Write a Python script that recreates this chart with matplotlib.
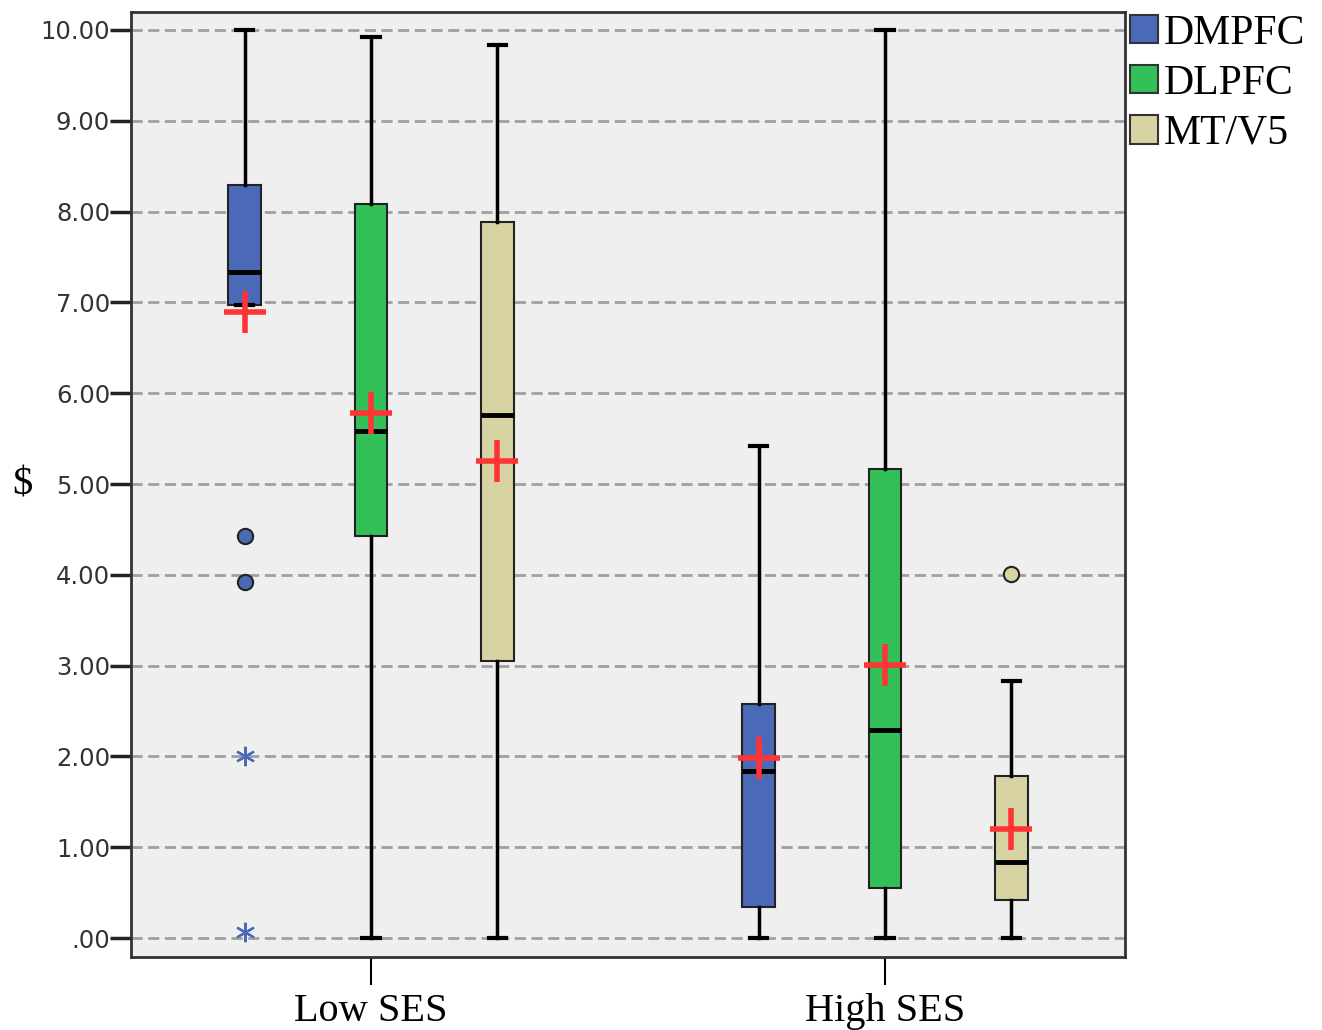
import matplotlib.pyplot as plt
from matplotlib.patches import Patch
import numpy as np

# data (SPSS style boxplot)
groups = ['Low SES', 'High SES']
regions = ['DMPFC', 'DLPFC', 'MT/V5']
colors = ['#4a6ab8', '#34c058', '#d7d3a3']

# per box, order: Low DMPFC, Low DLPFC, Low MT/V5, High DMPFC, High DLPFC, High MT/V5
whislo = [6.97, 0.0, 0.0, 0.0, 0.0, 0.0]
q1 = [6.97, 4.43, 3.05, 0.34, 0.55, 0.42]
med = [7.33, 5.58, 5.76, 1.84, 2.29, 0.84]
q3 = [8.29, 8.08, 7.89, 2.58, 5.17, 1.78]
whishi = [10.0, 9.92, 9.83, 5.42, 10.0, 2.83]
means = [6.89, 5.78, 5.25, 1.98, 3.01, 1.20]

# outliers (circles) and extremes (stars): (box index, value)
out_idx = [0, 0, 5]
out_val = [4.43, 3.92, 4.01]
ext_idx = [0, 0]
ext_val = [2.0, 0.07]

yticks = [0, 1, 2, 3, 4, 5, 6, 7, 8, 9, 10]
ytick_labels = ['.00', '1.00', '2.00', '3.00', '4.00', '5.00',
                '6.00', '7.00', '8.00', '9.00', '10.00']

fig = plt.figure(figsize=(13.22, 10.30), dpi=100)
ax = fig.add_axes([131 / 1322, 73 / 1030, 994 / 1322, 945 / 1030])
ax.set_facecolor('#efefef')

offset = 0.246
positions = []
for g in range(len(groups)):
    for r in range(len(regions)):
        positions.append(g + (r - 1) * offset)

stats = []
for i in range(len(positions)):
    stats.append({'whislo': whislo[i], 'q1': q1[i], 'med': med[i],
                  'q3': q3[i], 'whishi': whishi[i], 'fliers': []})

bp = ax.bxp(stats, positions=positions, widths=0.064, capwidths=0.034,
            patch_artist=True, showfliers=False, manage_ticks=False,
            boxprops=dict(edgecolor='#222222', linewidth=1.5),
            whiskerprops=dict(color='black', linewidth=2.5),
            capprops=dict(color='black', linewidth=3),
            medianprops=dict(color='black', linewidth=3.5), zorder=3)
for i, box in enumerate(bp['boxes']):
    box.set_facecolor(colors[i % 3])

# outliers
for i, v in zip(out_idx, out_val):
    ax.plot(positions[i], v, 'o', ms=11, mfc=colors[i % 3], mec='#222222',
            mew=1.5, zorder=4)
for i, v in zip(ext_idx, ext_val):
    ax.plot(positions[i], v, marker=(6, 2, 0), ms=14, color=colors[i % 3],
            mew=1.6, ls='none', zorder=4)

# means as red crosses
ax.plot(positions, means, '+', ms=30, mew=4, color='#ff3535', ls='none', zorder=5)

ax.set_xlim(-0.467, 1.467)
ax.set_ylim(-0.209, 10.198)
ax.set_yticks(yticks)
ax.set_yticklabels(ytick_labels, fontsize=17.5, color='#333333')
ax.set_xticks([0, 1])
ax.set_xticklabels(groups, fontsize=29, family='Liberation Serif')
ax.tick_params(axis='y', length=15, width=2.5, color='#222222', pad=0)
ax.tick_params(axis='x', length=20, width=1.5, pad=6)
ax.yaxis.grid(True, linestyle=(0, (4, 2)), color='#a0a0a0', linewidth=2)
ax.set_axisbelow(True)
for s in ax.spines.values():
    s.set_linewidth(2)
    s.set_color('#333333')

fig.text(22 / 1322, 1 - 485 / 1030, '$', fontsize=29, family='Liberation Serif',
         ha='center', va='center')

handles = [Patch(facecolor=c, edgecolor='#333333', linewidth=1.5) for c in colors]
fig.legend(handles, regions, loc='upper left', bbox_to_anchor=(1130 / 1322, 1 - 14 / 1030),
           frameon=False, prop={'family': 'Liberation Serif', 'size': 30},
           handlelength=0.68, handleheight=0.68, handletextpad=0.12,
           labelspacing=0.28, borderpad=0, borderaxespad=0)

fig.savefig('out.png', dpi=100)
